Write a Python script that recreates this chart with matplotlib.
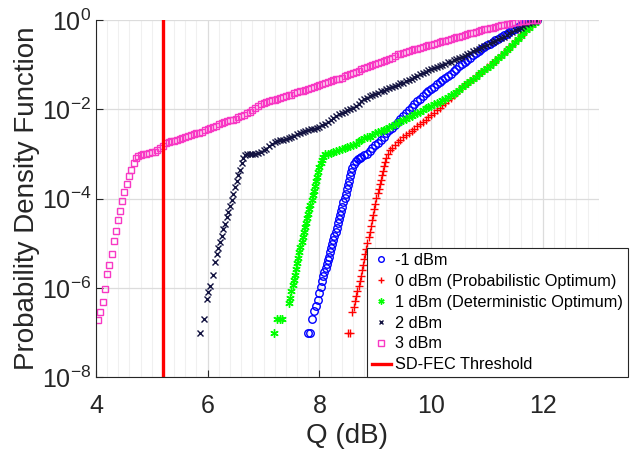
import numpy as np
import matplotlib
matplotlib.use('Agg')
import matplotlib.pyplot as plt
from matplotlib.ticker import FixedLocator, MultipleLocator, FuncFormatter

plt.rcParams['font.family'] = ['Liberation Sans', 'DejaVu Sans']
plt.rcParams['mathtext.default'] = 'regular'

# Q values (dB) and log10 of the probability for each launch power
q_m1 = [7.79, 7.83, 7.86, 7.90, 7.94, 7.98, 8.00, 8.03, 8.05, 8.07, 8.09, 8.11, 8.13, 8.15, 8.17,
        8.19, 8.21, 8.23, 8.25, 8.27, 8.29, 8.31, 8.33, 8.35, 8.37, 8.39, 8.41, 8.43, 8.45, 8.47,
        8.49, 8.51, 8.53, 8.55, 8.57, 8.59, 8.62, 8.65, 8.69, 8.72,
        8.75, 8.80, 8.85, 8.90, 8.95, 9.00, 9.05, 9.10, 9.15, 9.20, 9.25, 9.30, 9.35, 9.40, 9.45,
        9.50, 9.55, 9.60, 9.65, 9.70, 9.75, 9.80, 9.85, 9.90, 9.95, 10.00, 10.05, 10.10, 10.15,
        10.20, 10.25, 10.30, 10.35, 10.40, 10.45, 10.50, 10.55, 10.60, 10.65, 10.70, 10.75, 10.80,
        10.85, 10.90, 10.95, 11.00, 11.05, 11.10, 11.15, 11.20, 11.25, 11.30, 11.35, 11.40, 11.45,
        11.50, 11.55, 11.60, 11.65, 11.70, 11.75, 11.80, 11.85, 11.90]
lp_m1 = [-7.00, -7.00, -6.70, -6.52, -6.40, -6.26, -6.12, -5.97, -5.85, -5.74, -5.64, -5.56, -5.47,
         -5.38, -5.30, -5.20, -5.10, -5.01, -4.92, -4.83, -4.74, -4.65, -4.55, -4.46, -4.37, -4.27,
         -4.18, -4.08, -3.98, -3.89, -3.79, -3.70, -3.60, -3.50, -3.41, -3.32, -3.23, -3.16, -3.12,
         -3.09,
         -3.06, -3.03, -2.99, -2.93, -2.86, -2.80, -2.75, -2.68, -2.62, -2.54, -2.47, -2.41, -2.35,
         -2.28, -2.21, -2.15, -2.08, -2.01, -1.94, -1.88, -1.82, -1.76, -1.70, -1.64, -1.59, -1.54,
         -1.49, -1.44, -1.39, -1.35, -1.30, -1.25, -1.20, -1.14, -1.09, -1.04, -0.99, -0.94, -0.89,
         -0.84, -0.79, -0.74, -0.69, -0.65, -0.60, -0.56, -0.53, -0.49, -0.45, -0.42, -0.38, -0.34,
         -0.31, -0.27, -0.23, -0.19, -0.16, -0.12, -0.09, -0.07, -0.05, -0.03, -0.01, 0.00]

q_0 = [8.52, 8.55, 8.59, 8.62, 8.64, 8.66, 8.68, 8.70, 8.72, 8.74, 8.76, 8.78, 8.80, 8.82, 8.84,
       8.86, 8.88, 8.90, 8.92, 8.94, 8.96, 8.98, 9.00, 9.02, 9.04, 9.06, 9.08, 9.10, 9.12, 9.14,
       9.16, 9.18, 9.20, 9.23, 9.27,
       9.30, 9.35, 9.40, 9.45, 9.50, 9.55, 9.60, 9.65, 9.70, 9.75, 9.80, 9.85, 9.90, 9.95, 10.00,
       10.05, 10.10, 10.15, 10.20, 10.25, 10.30, 10.35, 10.40, 10.45, 10.50, 10.55, 10.60, 10.65,
       10.70, 10.75, 10.80, 10.85, 10.90, 10.95, 11.00, 11.05, 11.10, 11.15, 11.20, 11.25, 11.30,
       11.35, 11.40, 11.45, 11.50, 11.55, 11.60, 11.65, 11.70, 11.75, 11.80, 11.85, 11.90]
lp_0 = [-7.00, -7.00, -6.55, -6.43, -6.30, -6.18, -6.06, -5.96, -5.85, -5.73, -5.61, -5.49, -5.36,
        -5.24, -5.12, -4.99, -4.87, -4.75, -4.62, -4.49, -4.37, -4.24, -4.11, -3.99, -3.88, -3.78,
        -3.68, -3.58, -3.48, -3.38, -3.28, -3.18, -3.08, -2.99, -2.92,
        -2.86, -2.79, -2.73, -2.68, -2.63, -2.58, -2.53, -2.48, -2.43, -2.38, -2.33, -2.28, -2.23,
        -2.18, -2.13, -2.08, -2.02, -1.96, -1.91, -1.85, -1.80, -1.74, -1.68, -1.63, -1.57, -1.51,
        -1.46, -1.41, -1.36, -1.31, -1.26, -1.21, -1.16, -1.11, -1.06, -1.01, -0.96, -0.91, -0.85,
        -0.79, -0.73, -0.67, -0.61, -0.55, -0.48, -0.42, -0.35, -0.29, -0.22, -0.16, -0.10, -0.05,
        0.00]

q_1 = [7.19, 7.25, 7.29, 7.33, 7.46, 7.48, 7.50, 7.52, 7.54, 7.56, 7.58, 7.60, 7.62, 7.64, 7.66,
       7.68, 7.70, 7.72, 7.74, 7.76, 7.78, 7.80, 7.82, 7.84, 7.86, 7.88, 7.90, 7.92, 7.94, 7.96,
       7.98, 8.00, 8.02, 8.04, 8.07,
       8.10, 8.15, 8.20, 8.25, 8.30, 8.35, 8.40, 8.45, 8.50, 8.55, 8.60, 8.65, 8.70, 8.75, 8.80,
       8.85, 8.90, 8.95, 9.00, 9.05, 9.10, 9.15, 9.20, 9.25, 9.30, 9.35, 9.40, 9.45, 9.50, 9.55,
       9.60, 9.65, 9.70, 9.75, 9.80, 9.85, 9.90, 9.95, 10.00, 10.05, 10.10, 10.15, 10.20, 10.25,
       10.30, 10.35, 10.40, 10.45, 10.50, 10.55, 10.60, 10.65, 10.70, 10.75, 10.80, 10.85, 10.90,
       10.95, 11.00, 11.05, 11.10, 11.15, 11.20, 11.25, 11.30, 11.35, 11.40, 11.45, 11.50, 11.55,
       11.60, 11.65, 11.70, 11.75, 11.80, 11.85, 11.90]
lp_1 = [-7.00, -6.70, -6.70, -6.70, -6.34, -6.22, -6.08, -5.94, -5.82, -5.71, -5.58, -5.45, -5.33,
        -5.20, -5.08, -4.97, -4.86, -4.75, -4.64, -4.54, -4.44, -4.34, -4.24, -4.14, -4.04, -3.93,
        -3.82, -3.71, -3.61, -3.51, -3.41, -3.30, -3.21, -3.13, -3.06,
        -3.01, -2.99, -2.98, -2.96, -2.94, -2.92, -2.90, -2.87, -2.85, -2.83, -2.80, -2.77, -2.72,
        -2.68, -2.65, -2.63, -2.61, -2.58, -2.54, -2.51, -2.49, -2.47, -2.44, -2.40, -2.37, -2.33,
        -2.30, -2.27, -2.24, -2.21, -2.18, -2.14, -2.11, -2.08, -2.05, -2.02, -1.98, -1.95, -1.92,
        -1.89, -1.86, -1.83, -1.80, -1.77, -1.73, -1.69, -1.65, -1.61, -1.56, -1.51, -1.46, -1.41,
        -1.36, -1.31, -1.27, -1.22, -1.17, -1.12, -1.07, -1.02, -0.97, -0.92, -0.86, -0.80, -0.74,
        -0.68, -0.62, -0.55, -0.49, -0.42, -0.36, -0.29, -0.23, -0.17, -0.11, -0.06, 0.00]

q_2 = [5.87, 5.94, 5.98, 6.01, 6.04, 6.09, 6.13, 6.16, 6.19, 6.22, 6.25, 6.28, 6.31, 6.34, 6.37,
       6.40, 6.43, 6.46, 6.49, 6.52, 6.55, 6.58, 6.61, 6.64, 6.67,
       6.70, 6.75, 6.80, 6.85, 6.90, 6.95, 7.00, 7.05, 7.10, 7.15, 7.20, 7.25, 7.30, 7.35, 7.40,
       7.45, 7.50, 7.55, 7.60, 7.65, 7.70, 7.75, 7.80, 7.85, 7.90, 7.95, 8.00, 8.05, 8.10, 8.15,
       8.20, 8.25, 8.30, 8.35, 8.40, 8.45, 8.50, 8.55, 8.60, 8.65, 8.70, 8.75, 8.80, 8.85, 8.90,
       8.95, 9.00, 9.05, 9.10, 9.15, 9.20, 9.25, 9.30, 9.35, 9.40, 9.45, 9.50, 9.55, 9.60, 9.65,
       9.70, 9.75, 9.80, 9.85, 9.90, 9.95, 10.00, 10.05, 10.10, 10.15, 10.20, 10.25, 10.30, 10.35,
       10.40, 10.45, 10.50, 10.55, 10.60, 10.65, 10.70, 10.75, 10.80, 10.85, 10.90, 10.95, 11.00,
       11.05, 11.10, 11.15, 11.20, 11.25, 11.30, 11.35, 11.40, 11.45, 11.50, 11.55, 11.60, 11.65,
       11.70, 11.75, 11.80, 11.85, 11.90]
lp_2 = [-7.00, -6.70, -6.24, -6.09, -5.96, -5.70, -5.42, -5.25, -5.10, -4.98, -4.84, -4.69, -4.56,
        -4.42, -4.30, -4.17, -4.02, -3.89, -3.75, -3.61, -3.48, -3.35, -3.21, -3.10, -3.03,
        -3.01, -3.00, -3.00, -2.99, -2.98, -2.96, -2.92, -2.88, -2.83, -2.78, -2.74, -2.71, -2.69,
        -2.68, -2.66, -2.65, -2.62, -2.60, -2.56, -2.53, -2.50, -2.48, -2.46, -2.45, -2.43, -2.42,
        -2.39, -2.36, -2.33, -2.29, -2.25, -2.20, -2.15, -2.11, -2.08, -2.05, -2.02, -1.99, -1.96,
        -1.92, -1.87, -1.82, -1.78, -1.74, -1.71, -1.68, -1.65, -1.63, -1.60, -1.58, -1.55, -1.53,
        -1.50, -1.47, -1.45, -1.42, -1.40, -1.37, -1.34, -1.31, -1.28, -1.25, -1.22, -1.19, -1.16,
        -1.13, -1.10, -1.08, -1.05, -1.03, -1.00, -0.98, -0.95, -0.93, -0.90, -0.88, -0.85, -0.83,
        -0.80, -0.77, -0.74, -0.70, -0.67, -0.64, -0.61, -0.58, -0.55, -0.52, -0.49, -0.46, -0.43,
        -0.40, -0.37, -0.33, -0.30, -0.27, -0.23, -0.20, -0.17, -0.13, -0.10, -0.07, -0.04, -0.02,
        0.00]

q_3 = [4.04, 4.08, 4.12, 4.16, 4.20, 4.24, 4.28, 4.32, 4.36, 4.39, 4.44, 4.47, 4.51, 4.56, 4.59,
       4.63, 4.68, 4.71,
       4.75, 4.80, 4.85, 4.90, 4.95, 5.00, 5.05, 5.10, 5.15, 5.20, 5.25, 5.30, 5.35, 5.40, 5.45,
       5.50, 5.55, 5.60, 5.65, 5.70, 5.75, 5.80, 5.85, 5.90, 5.95, 6.00, 6.05, 6.10, 6.15, 6.20,
       6.25, 6.30, 6.35, 6.40, 6.45, 6.50, 6.55, 6.60, 6.65, 6.70, 6.75, 6.80, 6.85, 6.90, 6.95,
       7.00, 7.05, 7.10, 7.15, 7.20, 7.25, 7.30, 7.35, 7.40, 7.45, 7.50, 7.55, 7.60, 7.65, 7.70,
       7.75, 7.80, 7.85, 7.90, 7.95, 8.00, 8.05, 8.10, 8.15, 8.20, 8.25, 8.30, 8.35, 8.40, 8.45,
       8.50, 8.55, 8.60, 8.65, 8.70, 8.75, 8.80, 8.85, 8.90, 8.95, 9.00, 9.05, 9.10, 9.15, 9.20,
       9.25, 9.30, 9.35, 9.40, 9.45, 9.50, 9.55, 9.60, 9.65, 9.70, 9.75, 9.80, 9.85, 9.90, 9.95,
       10.00, 10.05, 10.10, 10.15, 10.20, 10.25, 10.30, 10.35, 10.40, 10.45, 10.50, 10.55, 10.60,
       10.65, 10.70, 10.75, 10.80, 10.85, 10.90, 10.95, 11.00, 11.05, 11.10, 11.15, 11.20, 11.25,
       11.30, 11.35, 11.40, 11.45, 11.50, 11.55, 11.60, 11.65, 11.70, 11.75, 11.80, 11.85, 11.90]
lp_3 = [-6.71, -6.55, -6.32, -6.02, -5.68, -5.48, -5.23, -4.96, -4.72, -4.48, -4.28, -4.06, -3.85,
        -3.67, -3.50, -3.35, -3.21, -3.10,
        -3.04, -3.02, -3.01, -3.00, -2.98, -2.96, -2.95, -2.92, -2.87, -2.82, -2.76, -2.73, -2.71,
        -2.70, -2.68, -2.67, -2.65, -2.63, -2.60, -2.58, -2.56, -2.54, -2.52, -2.50, -2.47, -2.44,
        -2.42, -2.40, -2.37, -2.34, -2.31, -2.29, -2.27, -2.25, -2.23, -2.21, -2.18, -2.15, -2.12,
        -2.08, -2.05, -2.01, -1.97, -1.93, -1.89, -1.86, -1.84, -1.82, -1.80, -1.79, -1.77, -1.75,
        -1.73, -1.71, -1.69, -1.67, -1.64, -1.62, -1.60, -1.58, -1.56, -1.54, -1.52, -1.50, -1.48,
        -1.46, -1.43, -1.41, -1.39, -1.37, -1.35, -1.33, -1.31, -1.29, -1.26, -1.24, -1.21, -1.19,
        -1.16, -1.14, -1.10, -1.07, -1.05, -1.03, -1.01, -0.99, -0.96, -0.94, -0.92, -0.90, -0.87,
        -0.84, -0.80, -0.77, -0.75, -0.73, -0.71, -0.70, -0.68, -0.66, -0.64, -0.62, -0.60, -0.58,
        -0.56, -0.55, -0.53, -0.51, -0.49, -0.48, -0.46, -0.44, -0.42, -0.40, -0.38, -0.37, -0.35,
        -0.33, -0.31, -0.30, -0.28, -0.26, -0.24, -0.23, -0.21, -0.20, -0.18, -0.17, -0.15, -0.14,
        -0.12, -0.11, -0.09, -0.08, -0.06, -0.05, -0.04, -0.03, -0.02, -0.015, -0.01, -0.005,
        -0.002, 0.00]

fec_q = 5.2

fig = plt.figure(figsize=(6.35, 4.55), dpi=100)
ax = fig.add_axes([0.151, 0.171, 0.792, 0.785])

ax.semilogy(q_m1, 10.0 ** np.array(lp_m1), 'o', ls='none', mfc='none', mec='#0000ff',
            ms=5.4, mew=1.0, label='-1 dBm')
ax.semilogy(q_0, 10.0 ** np.array(lp_0), '+', ls='none', color='#ff0000',
            ms=6, mew=1.0, label='0 dBm (Probabilistic Optimum)')
ax.semilogy(q_1, 10.0 ** np.array(lp_1), marker=(6, 2, 0), ls='none', color='#00ff00',
            ms=6, mew=1.0, label='1 dBm (Deterministic Optimum)')
ax.semilogy(q_2, 10.0 ** np.array(lp_2), 'x', ls='none', color='#121240',
            ms=4.6, mew=1.0, label='2 dBm')
ax.semilogy(q_3, 10.0 ** np.array(lp_3), 's', ls='none', mfc='none', mec='#f838c4',
            ms=5, mew=1.0, label='3 dBm')
ax.axvline(fec_q, color='#ff0000', lw=2.4, label='SD-FEC Threshold')

ax.set_xlim(4, 13)
ax.set_ylim(1e-8, 1)
ax.xaxis.set_major_locator(MultipleLocator(2))
ax.xaxis.set_minor_locator(MultipleLocator(0.2))
ax.yaxis.set_major_locator(FixedLocator([1e-8, 1e-6, 1e-4, 1e-2, 1]))
ax.yaxis.set_minor_locator(FixedLocator([]))
ax.yaxis.set_major_formatter(FuncFormatter(lambda v, pos: '$10^{%d}$' % round(np.log10(v))))

ax.grid(True, which='major', color='#dcdcdc', lw=0.9)
ax.grid(True, which='minor', axis='x', color='#f0f0f0', lw=0.8)
ax.set_axisbelow(True)

for side in ['top', 'right']:
    ax.spines[side].set_visible(False)
for side in ['left', 'bottom']:
    ax.spines[side].set_color('#262626')
    ax.spines[side].set_linewidth(0.8)
ax.tick_params(which='major', direction='in', length=5, width=0.8, colors='#262626',
               labelsize=18)
ax.tick_params(axis='x', which='major', pad=12)
ax.tick_params(which='minor', length=0)

ax.set_xlabel('Q (dB)', fontsize=20, color='#262626', labelpad=4)
ax.set_ylabel('Probability Density Function', fontsize=20, color='#262626', labelpad=1)

leg = ax.legend(loc='lower right', bbox_to_anchor=(1.058, 0.0), borderaxespad=0,
                fontsize=11.7, handlelength=1.2, handletextpad=0.25, borderpad=0.3,
                labelspacing=0.36, fancybox=False, framealpha=1, markerscale=0.75)
leg.get_frame().set_edgecolor('#262626')
leg.get_frame().set_linewidth(0.8)

fig.savefig('out.png', dpi=100)
